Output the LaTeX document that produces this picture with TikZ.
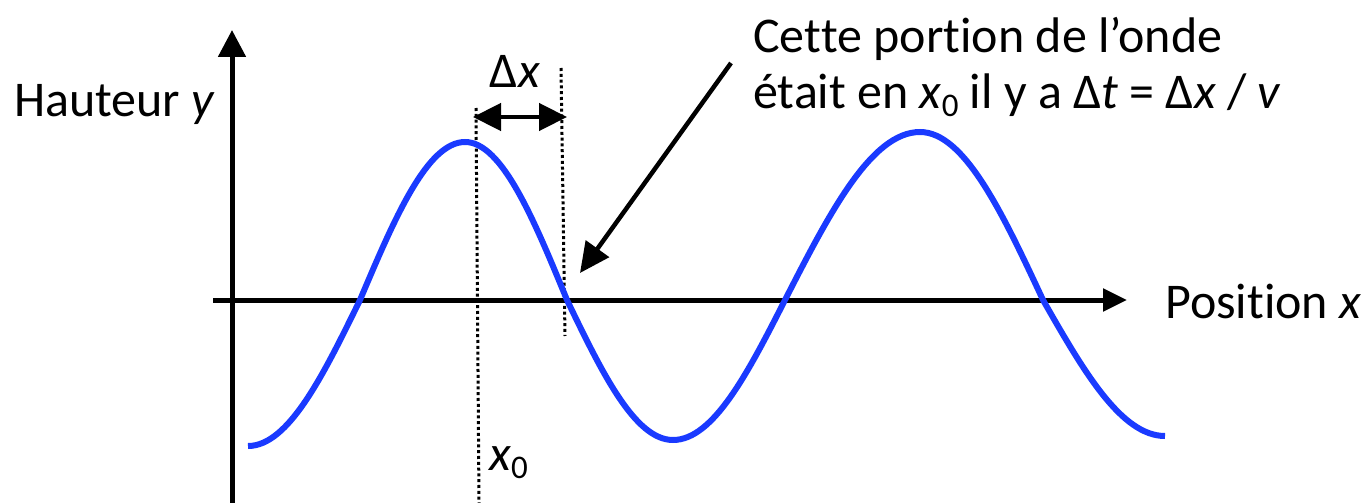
\documentclass[tikz,border=0pt]{standalone}
\usepackage{fontspec}
\setmainfont[RawFeature={-liga;-clig;-calt;-dlig;-rlig}]{Carlito}
\usetikzlibrary{arrows.meta}
\definecolor{wave}{RGB}{26,58,255}
\newcommand\mysub[1]{\raisebox{-0.35ex}{\fontsize{33}{33}\selectfont #1}}
\begin{document}
\begin{tikzpicture}[x=1pt,y=-1pt,
  axis/.style={line width=5pt,-{Triangle[length=27pt,width=27pt]}},
  xaxis/.style={line width=5pt,-{Triangle[length=24pt,width=22pt]}},
  dbl/.style={line width=4.5pt,{Triangle[length=28pt,width=27pt]}-{Triangle[length=28pt,width=27pt]}},
  pointer/.style={line width=4.5pt,-{Triangle[length=30pt,width=28pt]}},
  dots/.style={line width=3pt,dash pattern=on 3pt off 2.8pt},
  wavestyle/.style={wave,line width=6pt},
  lbl/.style={font=\fontsize{50}{56}\selectfont,inner sep=0pt}]
\useasboundingbox (0,0) rectangle (1368,503);
% dotted guides
\coordinate (d1t) at (476,108); \coordinate (d1b) at (479,503);
\coordinate (d2t) at (561,68); \coordinate (d2b) at (565,336);
\draw[dots] (d1t) -- (d1b);
\draw[dots] (d2t) -- (d2b);
% axes
\coordinate (yb) at (232,503); \coordinate (yt) at (232,30);
\coordinate (xl) at (213,300); \coordinate (xr) at (1127,300);
\draw[axis] (yb) -- (yt);
\draw[xaxis] (xl) -- (xr);
% wave
\draw[wavestyle] (248,446) cos (360,300) sin (465,142) cos (567,300) sin (673,440) cos (785,300) sin (920,132) cos (1043,300) sin (1165,436);
% delta x arrow
\coordinate (dl) at (473,117); \coordinate (dr) at (567,117);
\draw[dbl] (dl) -- (dr);
% pointer
\coordinate (ps) at (731,63); \coordinate (pe) at (580,273);
\draw[pointer] (ps) -- (pe);
% labels
\node[lbl,anchor=base west] (hy) at (14,116) {Hauteur \textit{y}};
\node[lbl,anchor=base west] (px) at (1165,318) {Posit\kern0pt ion \textit{x}};
\node[lbl,anchor=base] (dx) at (515,88) {Δ\textit{x}};
\node[lbl,anchor=base west] (x0) at (489,470) {\textit{x}\mysub{0}};
\node[lbl,anchor=base west,align=left] (txt) at (753,108) {Cet\kern0pt te port\kern0pt ion de l’onde\\était en \textit{x}\mysub{0} il y a Δ\textit{t} = Δ\textit{x} / \textit{v}};
\end{tikzpicture}
\end{document}
